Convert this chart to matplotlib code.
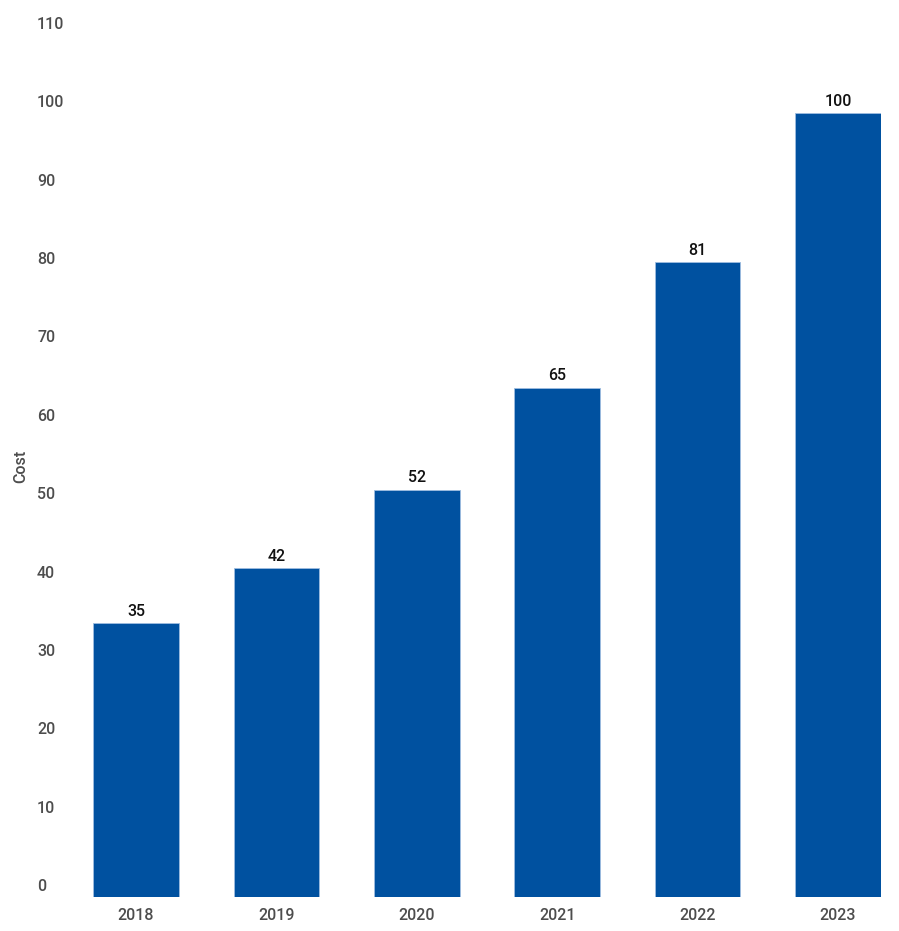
import matplotlib.pyplot as plt
import matplotlib.transforms as mtransforms

plt.rcParams['font.family'] = ['Roboto', 'DejaVu Sans']

years = ['2018', '2019', '2020', '2021', '2022', '2023']
cost = [35, 42, 52, 65, 81, 100]
yticks = [0, 10, 20, 30, 40, 50, 60, 70, 80, 90, 100, 110]

fig = plt.figure(figsize=(8.99, 9.31), dpi=100)
ax = fig.add_axes([93/899, 34/931, 788/899, 862/931])

x = range(len(years))
bars = ax.bar(x, cost, width=0.61, color='#0051a0', edgecolor='#9fbde0', linewidth=0.6)

for b, v in zip(bars, cost):
    ax.annotate(str(v), (b.get_x() + b.get_width() / 2, v), xytext=(0, 3),
                textcoords='offset points', ha='center', va='bottom',
                fontsize=11.5, color='#111111', fontweight='medium')

ax.set_xlim(-0.306, 5.306)
ax.set_ylim(0, 110)
ax.set_xticks(list(x))
ax.set_xticklabels(years, fontweight='medium')
ax.set_yticks(yticks)
ax.set_yticklabels([str(t) for t in yticks], fontweight='medium')

ax.tick_params(axis='x', length=0, pad=8, labelsize=11.5, labelcolor='#4d4d4d')
ax.tick_params(axis='y', length=0, pad=40.3, labelsize=11.5, labelcolor='#4d4d4d')
shift = mtransforms.ScaledTranslation(0, 0.12, fig.dpi_scale_trans)
for lab in ax.get_yticklabels():
    lab.set_horizontalalignment('left')
    lab.set_transform(lab.get_transform() + shift)

ax.set_ylabel('Cost', fontsize=11.5, color='#4d4d4d', fontweight='medium')
ax.yaxis.set_label_coords(-0.0825, 0.5)

for s in ax.spines.values():
    s.set_visible(False)

fig.savefig('out.png', dpi=100)
